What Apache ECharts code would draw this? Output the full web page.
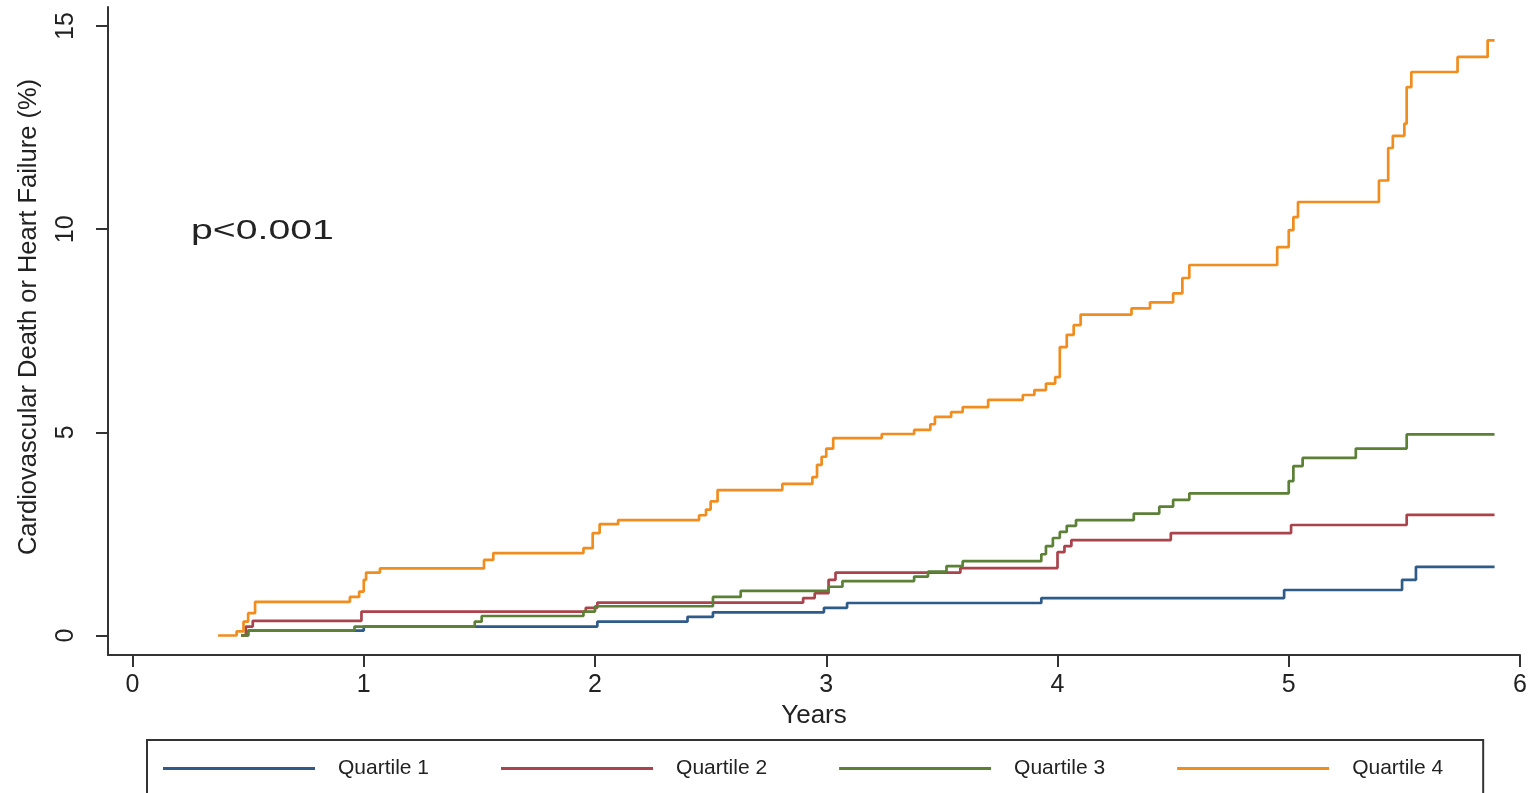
<!DOCTYPE html>
<html>
<head>
<meta charset="utf-8">
<script src="https://cdn.jsdelivr.net/npm/echarts@6/dist/echarts.min.js"></script>
<style>
  html, body { margin: 0; padding: 0; background: #ffffff; }
  #chart { width: 1535px; height: 793px; }
</style>
</head>
<body>
<div id="chart"></div>
<script>
// Cumulative incidence (%) of cardiovascular death or heart failure by quartile.
// Each entry is [years, percent]; the curve steps up to the new value at that time.
const quartile1 = [
  [0.47, 0], [0.50, 0.12], [1.00, 0.22], [2.01, 0.34], [2.40, 0.46], [2.51, 0.57],
  [2.99, 0.68], [3.09, 0.80], [3.93, 0.92], [4.98, 1.12], [5.49, 1.37], [5.55, 1.69],
  [5.89, 1.69]
];
const quartile2 = [
  [0.47, 0], [0.49, 0.22], [0.52, 0.36], [0.99, 0.59], [1.96, 0.68], [2.01, 0.81],
  [2.90, 0.92], [2.95, 1.04], [3.01, 1.37], [3.04, 1.55], [3.58, 1.66], [4.00, 2.05],
  [4.03, 2.20], [4.06, 2.35], [4.49, 2.52], [5.01, 2.72], [5.51, 2.97], [5.89, 2.97]
];
const quartile3 = [
  [0.47, 0], [0.50, 0.12], [0.96, 0.22], [1.48, 0.34], [1.51, 0.48], [1.95, 0.59],
  [2.00, 0.72], [2.51, 0.95], [2.63, 1.10], [3.01, 1.20], [3.07, 1.34], [3.38, 1.45],
  [3.44, 1.57], [3.52, 1.71], [3.59, 1.83], [3.93, 2.00], [3.95, 2.20], [3.98, 2.40],
  [4.01, 2.55], [4.04, 2.70], [4.08, 2.84], [4.33, 3.00], [4.44, 3.17], [4.50, 3.34],
  [4.57, 3.50], [5.00, 3.80], [5.02, 4.17], [5.06, 4.37], [5.29, 4.60], [5.51, 4.95],
  [5.89, 4.95]
];
const quartile4 = [
  [0.37, 0], [0.45, 0.10], [0.48, 0.34], [0.50, 0.55], [0.53, 0.83], [0.94, 0.95],
  [0.98, 1.08], [1.00, 1.37], [1.01, 1.55], [1.07, 1.65], [1.52, 1.86], [1.56, 2.03],
  [1.95, 2.15], [1.99, 2.52], [2.02, 2.74], [2.10, 2.84], [2.45, 2.96], [2.48, 3.10],
  [2.50, 3.30], [2.53, 3.58], [2.81, 3.73], [2.94, 3.90], [2.96, 4.20], [2.98, 4.40],
  [3.00, 4.60], [3.03, 4.86], [3.24, 4.96], [3.38, 5.06], [3.45, 5.20], [3.47, 5.38],
  [3.54, 5.50], [3.59, 5.62], [3.70, 5.80], [3.85, 5.92], [3.90, 6.04], [3.95, 6.20],
  [3.99, 6.36], [4.01, 7.10], [4.04, 7.40], [4.07, 7.64], [4.10, 7.90], [4.32, 8.05],
  [4.40, 8.20], [4.50, 8.42], [4.54, 8.80], [4.57, 9.12], [4.95, 9.56], [5.00, 9.98],
  [5.02, 10.30], [5.04, 10.67], [5.39, 11.20], [5.43, 12.00], [5.45, 12.30], [5.50, 12.60],
  [5.51, 13.50], [5.53, 13.87], [5.73, 14.24], [5.86, 14.65], [5.89, 14.65]
];

const seriesNames = ['Quartile 1', 'Quartile 2', 'Quartile 3', 'Quartile 4'];
const seriesColors = ['#2f5b88', '#aa434b', '#5b8036', '#f08d1e'];
const xTicks = [0, 1, 2, 3, 4, 5, 6];
const yTicks = [0, 5, 10, 15];
const xTitle = 'Years';
const yTitle = 'Cardiovascular Death or Heart Failure (%)';
const pValueText = 'p<0.001';

const FONT = '"Liberation Sans", Arial, Helvetica, sans-serif';
const INK = '#222';
const AXIS = '#333';

const chart = echarts.init(document.getElementById('chart'), null, { renderer: 'canvas' });

const allSeries = [quartile1, quartile2, quartile3, quartile4].map((data, i) => ({
  name: seriesNames[i],
  type: 'line',
  step: 'end',
  data: data,
  symbol: 'none',
  showSymbol: false,
  color: seriesColors[i],
  lineStyle: { width: 2.7, color: seriesColors[i] },
  z: 2 + i
}));

chart.setOption({
  animation: false,
  backgroundColor: '#ffffff',
  grid: { left: 108, right: 15, top: 7, bottom: 138 },
  xAxis: {
    type: 'value',
    min: -0.106,
    max: 6,
    name: xTitle,
    nameLocation: 'middle',
    nameGap: 42,
    nameTextStyle: { fontSize: 26, color: INK, fontFamily: FONT },
    axisLine: { show: true, onZero: false, lineStyle: { color: AXIS, width: 2 } },
    axisTick: { show: true, length: 12, customValues: xTicks, lineStyle: { color: AXIS, width: 2 } },
    axisLabel: { customValues: xTicks, fontSize: 25, margin: 18, color: INK, fontFamily: FONT },
    splitLine: { show: false }
  },
  yAxis: {
    type: 'value',
    min: -0.48,
    max: 15.47,
    name: yTitle,
    nameLocation: 'middle',
    nameGap: 66,
    nameRotate: 90,
    nameTextStyle: { fontSize: 25.5, color: INK, fontFamily: FONT, padding: [0, 0, 0, 28] },
    axisLine: { show: true, onZero: false, lineStyle: { color: AXIS, width: 2 } },
    axisTick: { show: true, length: 12, customValues: yTicks, lineStyle: { color: AXIS, width: 2 } },
    axisLabel: { customValues: yTicks, rotate: 90, fontSize: 25, margin: 29, color: INK, fontFamily: FONT },
    splitLine: { show: false }
  },
  legend: {
    data: seriesNames,
    left: 147,
    top: 740,
    orient: 'horizontal',
    icon: 'rect',
    itemWidth: 152,
    itemHeight: 3,
    itemGap: 72,
    padding: [18, 40, 20, 16],
    borderColor: '#333',
    borderWidth: 2,
    borderRadius: 0,
    backgroundColor: '#ffffff',
    textStyle: { fontSize: 21, color: INK, fontFamily: FONT, padding: [0, 0, 0, 18] }
  },
  graphic: [{
    type: 'text',
    x: 191,
    y: 231,
    scaleX: 1.4,
    style: { text: pValueText, fontSize: 28, fill: INK, fontFamily: FONT, textVerticalAlign: 'middle' }
  }],
  series: allSeries
});
</script>
</body>
</html>
